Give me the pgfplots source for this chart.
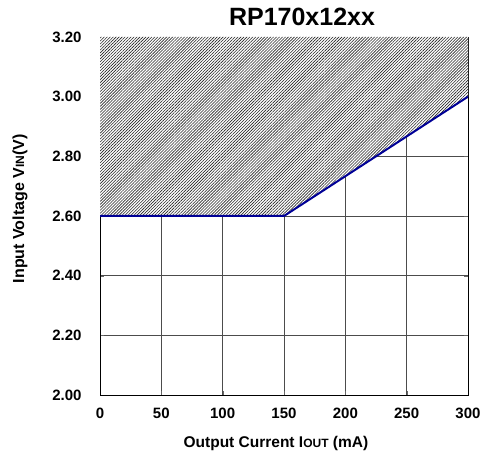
\documentclass[border=0pt]{standalone}
\usepackage{pgfplots}
\pgfplotsset{compat=1.18}
\usepackage{fontspec}
\setmainfont{Liberation Sans}
\usetikzlibrary{patterns.meta}

\begin{document}
\begin{tikzpicture}
  \begin{axis}[
      scale only axis,
      width=368pt, height=358pt,
      xmin=0, xmax=300, ymin=2.0, ymax=3.2,
      xtick={0,50,...,300},
      ytick={2.0,2.2,...,3.21},
      grid=major,
      major grid style={black!70, line width=0.5pt},
      axis line style={black, line width=0.8pt},
      tick style={black!60},
      tick align=inside,
      major tick length=4pt,
      /pgf/number format/assume math mode=true,
      yticklabel style={/pgf/number format/fixed, /pgf/number format/zerofill,
        /pgf/number format/precision=2, xshift=-15pt},
      ticklabel style={font=\bfseries\fontsize{15}{17}\selectfont},
      xticklabel style={yshift=-9pt},
      title={\bfseries\fontsize{25}{28}\selectfont RP170x12xx},
      title style={at={(axis description cs:0.549,1)}, anchor=base, yshift=5pt},
      xlabel={\bfseries\fontsize{15.5}{17}\selectfont Output Current I{\fontsize{12}{13}\selectfont OUT} (mA)},
      ylabel={\bfseries\fontsize{16}{18}\selectfont Input Voltage V{\fontsize{12}{13}\selectfont IN}(V)},
      xlabel style={at={(axis description cs:0.478,0)}, anchor=base, yshift=-52pt},
      ylabel style={at={(axis description cs:-0.217,0.52)}, anchor=center},
    ]
    % region above the minimum input voltage line: white under, hatch over
    \addplot[draw=none, fill=white]
      coordinates {(0,2.6) (150,2.6) (300,3.0) (300,3.2) (0,3.2)} -- cycle;
    \addplot[draw=none, pattern={Lines[angle=45, distance=2.1pt, line width=0.6pt]}, pattern color=black!85]
      coordinates {(0,2.6) (150,2.6) (300,3.0) (300,3.2) (0,3.2)} -- cycle;
    \addplot[color={rgb,255:red,0;green,0;blue,150}, line width=2pt]
      coordinates {(0,2.6) (150,2.6) (300,3.0)};
    \coordinate (bl) at (rel axis cs:0,0);
    \coordinate (tr) at (rel axis cs:1,1);
  \end{axis}
  \path ([shift={(-100pt,-70pt)}]bl) rectangle ([shift={(17pt,37pt)}]tr);
\end{tikzpicture}
\end{document}
